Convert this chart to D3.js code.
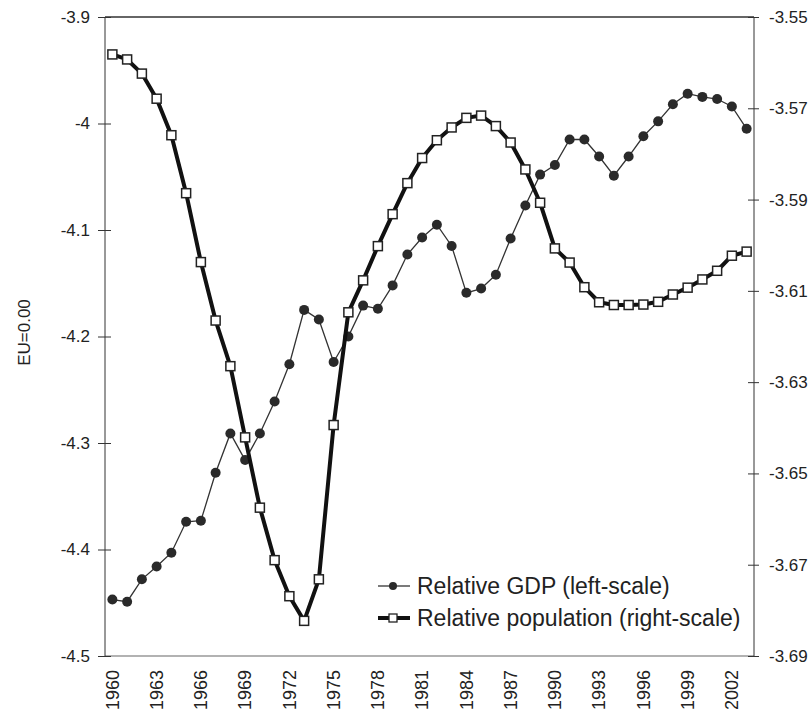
<!DOCTYPE html>
<html>
<head>
<meta charset="utf-8">
<script src="https://cdn.jsdelivr.net/npm/d3@7"></script>
<style>
body { margin: 0; background: #fff; }
text { font-family: "Liberation Sans", Arial, sans-serif; fill: #222; }
</style>
</head>
<body>
<script>
// years on the category axis
var years = [1960,1961,1962,1963,1964,1965,1966,1967,1968,1969,
	1970,1971,1972,1973,1974,1975,1976,1977,1978,1979,
	1980,1981,1982,1983,1984,1985,1986,1987,1988,1989,
	1990,1991,1992,1993,1994,1995,1996,1997,1998,1999,
	2000,2001,2002,2003];

// relative GDP, left scale
var gdp = [-4.447,-4.449,-4.428,-4.416,-4.403,-4.374,-4.373,-4.328,-4.291,-4.316,
	-4.291,-4.261,-4.226,-4.175,-4.184,-4.224,-4.200,-4.171,-4.174,-4.152,
	-4.123,-4.107,-4.095,-4.115,-4.159,-4.155,-4.142,-4.108,-4.077,-4.048,
	-4.039,-4.015,-4.015,-4.031,-4.049,-4.031,-4.012,-3.998,-3.982,-3.972,
	-3.975,-3.977,-3.984,-4.005];

// relative population, right scale
var pop = [-3.5582,-3.5593,-3.5624,-3.5679,-3.5759,-3.5886,-3.6037,-3.6165,-3.6265,-3.6421,
	-3.6575,-3.6690,-3.6769,-3.6823,-3.6732,-3.6394,-3.6147,-3.6077,-3.6002,-3.5932,
	-3.5864,-3.5809,-3.5770,-3.5742,-3.5721,-3.5716,-3.5739,-3.5775,-3.5834,-3.5907,
	-3.6007,-3.6038,-3.6092,-3.6125,-3.6131,-3.6131,-3.6130,-3.6124,-3.6108,-3.6093,
	-3.6075,-3.6056,-3.6023,-3.6014];

var leftTicks = ["-3.9","-4","-4.1","-4.2","-4.3","-4.4","-4.5"];
var rightTicks = ["-3.55","-3.57","-3.59","-3.61","-3.63","-3.65","-3.67","-3.69"];
var yearTicks = [1960,1963,1966,1969,1972,1975,1978,1981,1984,1987,1990,1993,1996,1999,2002];
var legendLabels = ["Relative GDP (left-scale)","Relative population (right-scale)"];

function init(){
	var w = 810;
	var h = 718;
	var left = 105, right = 754, top = 17, bottom = 656;

	var svg = d3.select("body")
		.append("svg")
		.attr("width", w)
		.attr("height", h);

	var xScale = d3.scaleBand()
		.domain(years)
		.range([left, right])
		.padding(0);
	var half = xScale.bandwidth() / 2;

	var yLeft = d3.scaleLinear()
		.domain([-4.5, -3.9])
		.range([bottom, top]);

	var yRight = d3.scaleLinear()
		.domain([-3.69, -3.55])
		.range([bottom, top]);

	// frame: top and bottom lines
	svg.append("line")
		.attr("x1", left).attr("x2", right)
		.attr("y1", top).attr("y2", top)
		.attr("stroke", "#666").attr("stroke-width", 2);
	svg.append("line")
		.attr("x1", left).attr("x2", right)
		.attr("y1", bottom).attr("y2", bottom)
		.attr("stroke", "#999").attr("stroke-width", 1.5);

	// left axis
	var gl = svg.append("g")
		.attr("transform", "translate(" + left + ",0)")
		.call(d3.axisLeft(yLeft)
			.tickValues(leftTicks.map(Number))
			.tickFormat(function(d, i){ return leftTicks[i]; })
			.tickSize(7)
			.tickPadding(8));
	gl.select(".domain").attr("stroke", "#333").attr("d", "M0," + top + "V" + bottom);
	gl.selectAll(".tick line").attr("x1", 6).attr("stroke", "#333");
	gl.selectAll(".tick text").style("font-size", "17px").attr("fill", "#222");

	// right axis
	var gr = svg.append("g")
		.attr("transform", "translate(" + right + ",0)")
		.call(d3.axisRight(yRight)
			.tickValues(rightTicks.map(Number))
			.tickFormat(function(d, i){ return rightTicks[i]; })
			.tickSize(5)
			.tickPadding(10));
	gr.select(".domain").attr("stroke", "#333").attr("d", "M0," + top + "V" + bottom);
	gr.selectAll(".tick line").attr("x1", -6).attr("stroke", "#333");
	gr.selectAll(".tick text").style("font-size", "17px").attr("fill", "#222");

	// x axis labels, rotated
	var gx = svg.append("g")
		.attr("transform", "translate(0," + bottom + ")")
		.call(d3.axisBottom(xScale).tickValues(yearTicks).tickSize(0));
	gx.select(".domain").remove();
	gx.selectAll(".tick text")
		.attr("transform", "rotate(-90)")
		.attr("x", -14)
		.attr("y", 0)
		.attr("dy", "0.35em")
		.style("text-anchor", "end")
		.style("font-size", "18px")
		.attr("fill", "#222");

	// y title
	svg.append("text")
		.attr("transform", "translate(30," + ((top + bottom) / 2 - 4) + ") rotate(-90)")
		.style("text-anchor", "middle")
		.style("font-size", "17px")
		.attr("fill", "#222")
		.text("EU=0.00");

	// GDP line
	var lineL = d3.line()
		.x(function(d, i){ return xScale(years[i]) + half; })
		.y(function(d){ return yLeft(d); });
	svg.append("path")
		.datum(gdp)
		.attr("d", lineL)
		.attr("fill", "none")
		.attr("stroke", "#333")
		.attr("stroke-width", 1.3);
	svg.selectAll(".gdp")
		.data(gdp)
		.enter()
		.append("circle")
		.attr("class", "gdp")
		.attr("cx", function(d, i){ return xScale(years[i]) + half; })
		.attr("cy", function(d){ return yLeft(d); })
		.attr("r", 5)
		.attr("fill", "#2a2a2a");

	// population line
	var lineR = d3.line()
		.x(function(d, i){ return xScale(years[i]) + half; })
		.y(function(d){ return yRight(d); });
	svg.append("path")
		.datum(pop)
		.attr("d", lineR)
		.attr("fill", "none")
		.attr("stroke", "#111")
		.attr("stroke-width", 4)
		.attr("stroke-linejoin", "round");
	svg.selectAll(".pop")
		.data(pop)
		.enter()
		.append("rect")
		.attr("class", "pop")
		.attr("x", function(d, i){ return xScale(years[i]) + half - 4.5; })
		.attr("y", function(d){ return yRight(d) - 4.5; })
		.attr("width", 9)
		.attr("height", 9)
		.attr("fill", "#fff")
		.attr("stroke", "#222")
		.attr("stroke-width", 1.5);

	// legend
	var lg = svg.append("g").attr("transform", "translate(378,586)");
	lg.append("line").attr("x1", 0).attr("x2", 32).attr("y1", 0).attr("y2", 0)
		.attr("stroke", "#333").attr("stroke-width", 1.3);
	lg.append("circle").attr("cx", 15).attr("cy", 0).attr("r", 4).attr("fill", "#2a2a2a");
	lg.append("line").attr("x1", 0).attr("x2", 32).attr("y1", 32).attr("y2", 32)
		.attr("stroke", "#111").attr("stroke-width", 4);
	lg.append("rect").attr("x", 11).attr("y", 28).attr("width", 8).attr("height", 8)
		.attr("fill", "#fff").attr("stroke", "#222").attr("stroke-width", 1.3);
	lg.selectAll(".lab")
		.data(legendLabels)
		.enter()
		.append("text")
		.attr("class", "lab")
		.attr("x", 39)
		.attr("y", function(d, i){ return i * 32; })
		.attr("dy", "0.35em")
		.style("font-size", "23px")
		.attr("fill", "#222")
		.text(function(d){ return d; });
}

window.onload = init;
</script>
</body>
</html>
